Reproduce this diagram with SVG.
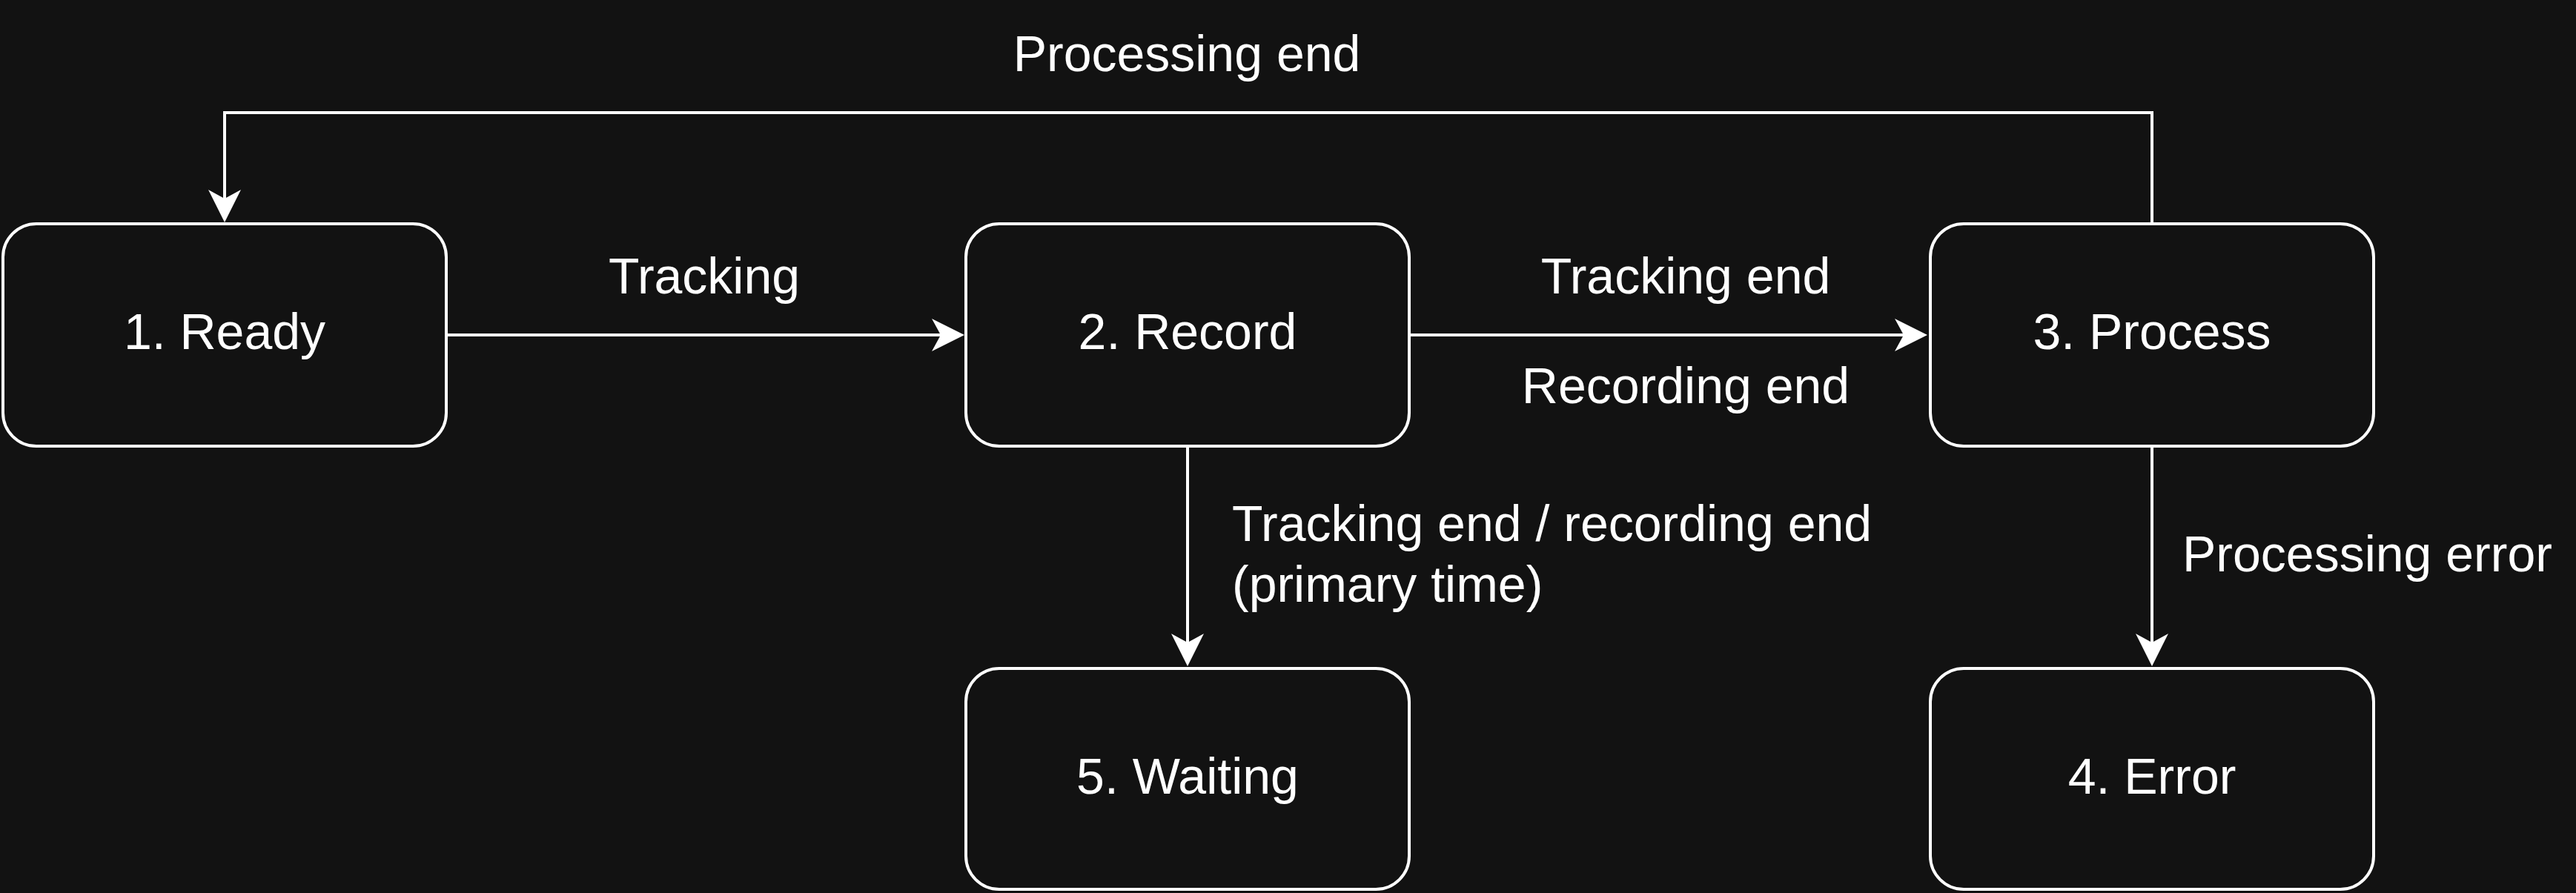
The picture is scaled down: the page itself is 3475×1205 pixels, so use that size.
<svg xmlns="http://www.w3.org/2000/svg" width="3475" height="1205" viewBox="0 0 3475 1205">
<style>
.node rect{fill:#121212;stroke:#ffffff;stroke-width:4}
text{font-family:"Liberation Sans",Arial,Helvetica,sans-serif;font-size:68px;fill:#ffffff}
.c{text-anchor:middle}
.conn path{fill:none;stroke:#ffffff;stroke-width:4}
</style>
<defs>
<marker id="arr" viewBox="-46 -24 48 48" refX="-32" refY="0" markerWidth="48" markerHeight="48" markerUnits="userSpaceOnUse" orient="auto">
<path d="M0,0 L-44,-22 L-32,0 L-44,22 Z" fill="#ffffff"/>
</marker>
</defs>
<rect x="0" y="0" width="3475" height="1205" fill="#121212"/>
<g id="connectors" class="conn">
<path d="M603,452 H1269" marker-end="url(#arr)"/>
<path d="M1903,452 H2568" marker-end="url(#arr)"/>
<path d="M1602,602 V867" marker-end="url(#arr)"/>
<path d="M2903,602 V867" marker-end="url(#arr)"/>
<path d="M2903,302 V152 H303 V268" marker-end="url(#arr)"/>
</g>
<g id="labels">
<text class="c" x="1601" y="96">Processing end</text>
<text class="c" x="950" y="396">Tracking</text>
<text class="c" x="2274" y="396">Tracking end</text>
<text class="c" x="2274" y="544">Recording end</text>
<text x="1662" y="730">Tracking end / recording end</text>
<text x="1662" y="812">(primary time)</text>
<text x="2944" y="771">Processing error</text>
</g>
<g id="node1" class="node"><rect x="4" y="302" width="598" height="300" rx="45"/><text class="c" x="303" y="471">1. Ready</text></g>
<g id="node2" class="node"><rect x="1303" y="302" width="598" height="300" rx="45"/><text class="c" x="1602" y="471">2. Record</text></g>
<g id="node3" class="node"><rect x="2604" y="302" width="598" height="300" rx="45"/><text class="c" x="2903" y="471">3. Process</text></g>
<g id="node4" class="node"><rect x="2604" y="902" width="598" height="298" rx="45"/><text class="c" x="2903" y="1071">4. Error</text></g>
<g id="node5" class="node"><rect x="1303" y="902" width="598" height="298" rx="45"/><text class="c" x="1602" y="1071">5. Waiting</text></g>
</svg>
